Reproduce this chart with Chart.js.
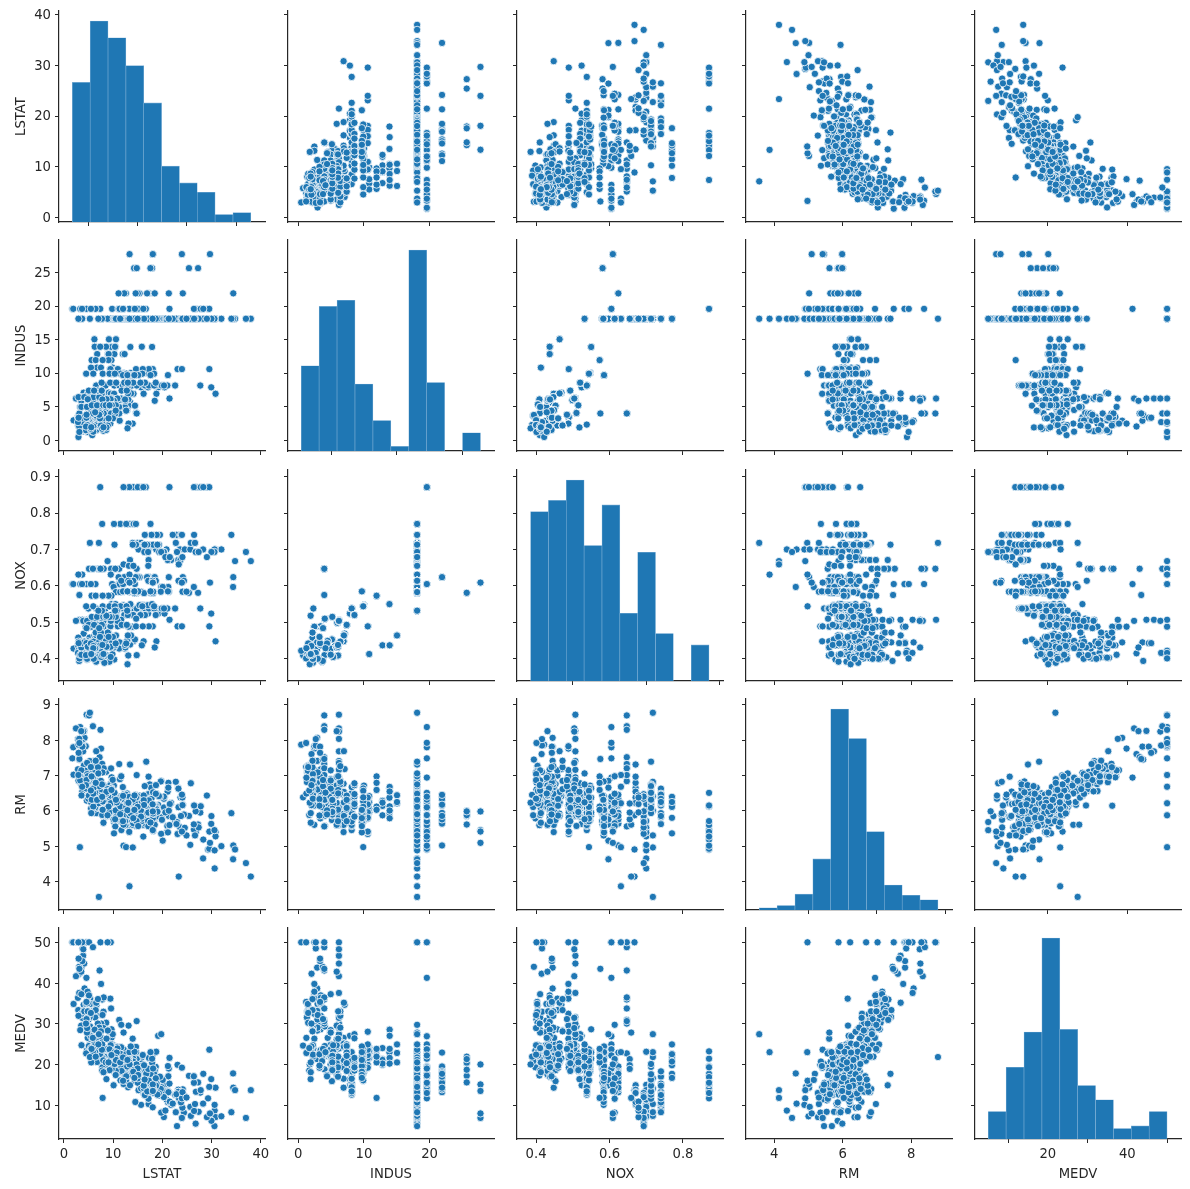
<!DOCTYPE html>
<html>
<head>
<meta charset="utf-8">
<title>Boston housing pair plot</title>
<script src="https://cdn.jsdelivr.net/npm/chart.js@4"></script>
<style>
    html, body { margin: 0; padding: 0; background: #fff; }
    #grid { position: relative; width: 1190px; height: 1189px; overflow: hidden; }
    #grid canvas { position: absolute; }
</style>
</head>
<body>
<div id="grid"></div>
<script>
// Values per house, same order in all five arrays
const indus = [
    2.31,
    7.07,7.07,
    2.18,2.18,2.18,
    7.87,7.87,7.87,7.87,7.87,7.87,7.87,
    8.14,8.14,8.14,8.14,8.14,8.14,8.14,8.14,8.14,8.14,8.14,8.14,8.14,8.14,8.14,8.14,8.14,8.14,8.14,8.14,8.14,8.14,
    5.96,5.96,5.96,5.96,
    2.95,2.95,
    6.91,6.91,6.91,6.91,6.91,6.91,6.91,6.91,6.91,
    5.64,5.64,5.64,5.64,
    4,
    1.22,
    0.74,
    1.32,
    5.13,5.13,5.13,5.13,5.13,5.13,
    1.38,
    3.37,3.37,
    6.07,6.07,6.07,
    10.81,10.81,10.81,10.81,
    12.83,12.83,12.83,12.83,12.83,12.83,
    4.86,4.86,4.86,4.86,
    4.49,4.49,4.49,4.49,
    3.41,3.41,3.41,3.41,
    15.04,15.04,15.04,
    2.89,2.89,2.89,2.89,2.89,
    8.56,8.56,8.56,8.56,8.56,8.56,8.56,8.56,8.56,8.56,8.56,
    10.01,10.01,10.01,10.01,10.01,10.01,10.01,10.01,10.01,
    25.65,25.65,25.65,25.65,25.65,25.65,25.65,
    21.89,21.89,21.89,21.89,21.89,21.89,21.89,21.89,21.89,21.89,21.89,21.89,21.89,21.89,21.89,
    19.58,19.58,19.58,19.58,19.58,19.58,19.58,19.58,19.58,19.58,19.58,19.58,19.58,19.58,19.58,19.58,
    19.58,19.58,19.58,19.58,19.58,19.58,19.58,19.58,19.58,19.58,19.58,19.58,19.58,19.58,
    4.05,4.05,4.05,4.05,4.05,4.05,
    2.46,2.46,2.46,2.46,2.46,2.46,2.46,2.46,2.46,
    3.44,3.44,3.44,3.44,3.44,3.44,
    2.93,2.93,
    0.46,
    1.52,1.52,1.52,
    1.47,1.47,
    2.03,2.03,
    2.68,2.68,
    10.59,10.59,10.59,10.59,10.59,10.59,10.59,10.59,10.59,10.59,10.59,
    13.89,13.89,13.89,13.89,
    6.2,6.2,6.2,6.2,6.2,6.2,6.2,6.2,6.2,6.2,6.2,6.2,
    6.2,6.2,6.2,6.2,6.2,6.2,
    4.93,4.93,4.93,4.93,4.93,4.93,
    5.86,5.86,5.86,5.86,5.86,5.86,5.86,5.86,5.86,5.86,
    3.64,3.64,
    3.75,
    3.97,3.97,3.97,3.97,3.97,3.97,3.97,3.97,3.97,3.97,3.97,
    3.97,
    6.96,6.96,6.96,6.96,6.96,
    6.41,6.41,6.41,6.41,6.41,
    3.33,3.33,3.33,3.33,
    1.21,
    2.97,
    2.25,
    1.76,
    5.32,5.32,5.32,
    4.95,4.95,4.95,
    13.92,13.92,13.92,13.92,13.92,
    2.24,2.24,2.24,
    6.09,6.09,6.09,
    2.18,2.18,2.18,2.18,
    9.9,9.9,9.9,9.9,9.9,9.9,9.9,9.9,9.9,9.9,9.9,9.9,
    7.38,7.38,7.38,7.38,7.38,7.38,7.38,7.38,
    3.24,3.24,3.24,
    6.06,6.06,
    5.19,5.19,5.19,5.19,5.19,5.19,5.19,5.19,
    1.52,
    1.89,
    3.78,3.78,
    4.39,4.39,
    4.15,
    2.01,
    1.25,1.25,
    1.69,1.69,
    2.02,
    1.91,1.91,
    18.1,18.1,18.1,18.1,18.1,18.1,18.1,18.1,18.1,18.1,18.1,18.1,18.1,18.1,18.1,18.1,18.1,18.1,18.1,18.1,18.1,18.1,
    18.1,18.1,18.1,18.1,18.1,18.1,18.1,18.1,18.1,18.1,18.1,18.1,18.1,18.1,18.1,18.1,18.1,18.1,18.1,18.1,18.1,18.1,
    18.1,18.1,18.1,18.1,18.1,18.1,18.1,18.1,18.1,18.1,18.1,18.1,18.1,18.1,18.1,18.1,18.1,18.1,18.1,18.1,18.1,18.1,
    18.1,18.1,18.1,18.1,18.1,18.1,18.1,18.1,18.1,18.1,18.1,18.1,18.1,18.1,18.1,18.1,18.1,18.1,18.1,18.1,18.1,18.1,
    18.1,18.1,18.1,18.1,18.1,18.1,18.1,18.1,18.1,18.1,18.1,18.1,18.1,18.1,18.1,18.1,18.1,18.1,18.1,18.1,18.1,18.1,
    18.1,18.1,18.1,18.1,18.1,18.1,18.1,18.1,18.1,18.1,18.1,18.1,18.1,18.1,18.1,18.1,18.1,18.1,18.1,18.1,18.1,18.1,
    27.74,27.74,27.74,27.74,27.74,
    9.69,9.69,9.69,9.69,9.69,9.69,9.69,9.69,
    11.93,11.93,11.93,11.93,11.93
];

const nox = [
    .538,
    .469,.469,
    .458,.458,.458,
    .524,.524,.524,.524,.524,.524,.524,
    .538,.538,.538,.538,.538,.538,.538,.538,.538,.538,.538,.538,.538,.538,.538,.538,.538,.538,.538,.538,.538,.538,
    .499,.499,.499,.499,
    .428,.428,
    .448,.448,.448,.448,.448,.448,.448,.448,.448,
    .439,.439,.439,.439,
    .41,
    .403,
    .41,
    .411,
    .453,.453,.453,.453,.453,.453,
    .4161,
    .398,.398,
    .409,.409,.409,
    .413,.413,.413,.413,
    .437,.437,.437,.437,.437,.437,
    .426,.426,.426,.426,
    .449,.449,.449,.449,
    .489,.489,.489,.489,
    .464,.464,.464,
    .445,.445,.445,.445,.445,
    .52,.52,.52,.52,.52,.52,.52,.52,.52,.52,.52,
    .547,.547,.547,.547,.547,.547,.547,.547,.547,
    .581,.581,.581,.581,.581,.581,.581,
    .624,.624,.624,.624,.624,.624,.624,.624,.624,.624,.624,.624,.624,.624,.624,
    .871,.871,.871,.871,.871,.871,.871,.871,.871,.871,.871,.871,.871,.871,.871,.871,
    .605,.605,.605,.605,.605,.605,.605,.605,.605,.605,.605,.605,.605,.605,
    .51,.51,.51,.51,.51,.51,
    .488,.488,.488,.488,.488,.488,.488,.488,.488,
    .437,.437,.437,.437,.437,.437,
    .401,.401,
    .422,
    .404,.404,.404,
    .403,.403,
    .415,.415,
    .4161,.4161,
    .489,.489,.489,.489,.489,.489,.489,.489,.489,.489,.489,
    .55,.55,.55,.55,
    .507,.507,.507,.507,.507,.507,.507,.507,.507,.507,.507,.507,
    .504,.504,.504,.504,.504,.504,
    .428,.428,.428,.428,.428,.428,
    .431,.431,.431,.431,.431,.431,.431,.431,.431,.431,
    .392,.392,
    .394,
    .647,.647,.647,.647,.647,.647,.647,.647,.647,.647,.647,
    .575,
    .464,.464,.464,.464,.464,
    .447,.447,.447,.447,.447,
    .4429,.4429,.4429,.4429,
    .401,
    .4,
    .389,
    .385,
    .405,.405,.405,
    .411,.411,.411,
    .437,.437,.437,.437,.437,
    .4,.4,.4,
    .433,.433,.433,
    .472,.472,.472,.472,
    .544,.544,.544,.544,.544,.544,.544,.544,.544,.544,.544,.544,
    .493,.493,.493,.493,.493,.493,.493,.493,
    .46,.46,.46,
    .4379,.4379,
    .515,.515,.515,.515,.515,.515,.515,.515,
    .442,
    .518,
    .484,.484,
    .442,.442,
    .429,
    .435,
    .429,.429,
    .411,.411,
    .41,
    .413,.413,
    .77,.77,.77,.77,.77,.77,.77,.77,
    .718,.718,.718,
    .631,.631,.631,.631,.631,
    .668,.668,.668,
    .671,.671,.671,.671,.671,.671,.671,
    .7,.7,.7,.7,.7,.7,.7,.7,.7,.7,.7,.7,
    .693,.693,.693,.693,.693,.693,.693,.693,.693,.693,.693,.693,
    .659,.659,
    .597,.597,.597,.597,.597,.597,
    .693,.679,.718,.718,.679,.718,.718,.718,.614,.614,.614,.614,.584,.584,.679,.679,.584,.584,.584,.713,.713,
    .74,.74,.74,.74,.74,.74,.74,.74,.74,.74,.74,.74,.74,
    .713,.713,.713,.713,.713,.713,.713,.713,.713,.713,.713,.713,.713,.713,.713,.713,
    .655,.655,.655,.584,.58,.58,.58,.532,.58,.614,.584,.584,.614,.584,.614,.614,
    .532,.532,.532,.532,
    .583,.583,.583,.583,
    .609,.609,.609,.609,.609,
    .585,.585,.585,.585,.585,.585,.585,.585,
    .573,.573,.573,.573,.573
];

const rm = [
    6.575,
    6.421,7.185,
    6.998,7.147,6.43,
    6.012,6.172,5.631,6.004,6.377,6.009,5.889,
    5.949,6.096,5.834,5.935,5.99,5.456,5.727,5.57,5.965,6.142,5.813,5.924,5.599,5.813,6.047,6.495,6.674,5.713,6.072,5.95,5.701,6.096,
    5.933,5.841,5.85,5.966,
    6.595,7.024,
    6.77,6.169,6.211,6.069,5.682,5.786,6.03,5.399,5.602,
    5.963,6.115,6.511,5.998,
    5.888,
    7.249,
    6.383,
    6.816,
    6.145,5.927,5.741,5.966,6.456,6.762,
    7.104,
    6.29,5.787,
    5.878,5.594,5.885,
    6.417,5.961,6.065,6.245,
    6.273,6.286,6.279,6.14,6.232,5.874,
    6.727,6.619,6.302,6.167,
    6.389,6.63,6.015,6.121,
    7.007,7.079,6.417,6.405,
    6.442,6.211,6.249,
    6.625,6.163,8.069,7.82,7.416,
    6.727,6.781,6.405,6.137,6.167,5.851,5.836,6.127,6.474,6.229,6.195,
    6.715,5.913,6.092,6.254,5.928,6.176,6.021,5.872,5.731,
    5.87,6.004,5.961,5.856,5.879,5.986,5.613,
    5.693,6.431,5.637,6.458,6.326,6.372,5.822,5.757,6.335,5.942,6.454,5.857,6.151,6.174,5.019,
    5.403,5.468,4.903,6.13,5.628,4.926,5.186,5.597,6.122,5.404,5.012,5.709,6.129,6.152,5.272,6.51,
    6.943,6.066,6.25,7.489,7.802,8.375,5.854,6.101,7.929,5.877,6.319,6.402,5.875,5.88,
    5.572,6.416,5.859,6.546,6.02,6.315,
    6.86,6.98,7.765,6.144,7.155,6.563,5.604,6.153,7.831,
    6.782,6.556,7.185,6.951,6.739,7.178,
    6.8,6.604,
    7.875,
    7.287,7.107,7.274,
    6.975,7.135,
    6.162,7.61,
    7.853,8.034,
    5.891,6.326,5.783,6.064,5.344,5.96,5.404,5.807,6.375,5.412,6.182,
    5.888,6.642,5.951,6.373,
    6.951,6.164,6.879,6.618,8.266,8.725,8.04,7.163,7.686,6.552,5.981,7.412,
    8.337,8.247,6.726,6.086,6.631,7.358,
    6.481,6.606,6.897,6.095,6.358,6.393,
    5.593,5.605,6.108,6.226,6.433,6.718,6.487,6.438,6.957,8.259,
    6.108,5.876,
    7.454,
    8.704,7.333,6.842,7.203,7.52,8.398,7.327,7.206,5.56,7.014,8.297,
    7.47,
    5.92,5.856,6.24,6.538,7.691,
    6.758,6.854,7.267,6.826,6.482,
    6.812,7.82,6.968,7.645,
    7.923,
    7.088,
    6.453,
    6.23,
    6.209,6.315,6.565,
    6.861,7.148,6.63,
    6.127,6.009,6.678,6.549,5.79,
    6.345,7.041,6.871,
    6.59,6.495,6.982,
    7.236,6.616,7.42,6.849,
    6.635,5.972,4.973,6.122,6.023,6.266,6.567,5.705,5.914,5.782,6.382,6.113,
    6.426,6.376,6.041,5.708,6.415,6.431,6.312,6.083,
    5.868,6.333,6.144,
    5.706,6.031,
    6.316,6.31,6.037,5.869,5.895,6.059,5.985,5.968,
    7.241,
    6.54,
    6.696,6.874,
    6.014,5.898,
    6.516,
    6.635,
    6.939,6.49,
    6.579,5.884,
    6.728,
    5.663,5.936,
    6.212,6.395,6.127,6.112,6.398,6.251,5.362,5.803,
    8.78,3.561,4.963,
    3.863,4.97,6.683,7.016,6.216,
    5.875,4.906,4.138,
    7.313,6.649,6.794,6.38,6.223,6.968,6.545,
    5.536,5.52,4.368,5.277,4.652,5,4.88,5.39,5.713,6.051,5.036,6.193,
    5.887,6.471,6.405,5.747,5.453,5.852,5.987,6.343,6.404,5.349,5.531,5.683,
    4.138,5.608,
    5.617,6.852,5.757,6.657,4.628,5.155,
    4.519,6.434,6.782,5.304,5.957,6.824,6.411,6.006,5.648,6.103,5.565,5.896,5.837,6.202,6.193,6.38,6.348,6.833,6.425,6.436,6.208,
    6.629,6.461,6.152,5.935,5.627,5.818,6.406,6.219,6.485,5.854,6.459,6.341,6.251,
    6.185,6.417,6.749,6.655,6.297,7.393,6.728,6.525,5.976,5.936,6.301,6.081,6.701,6.376,6.317,6.513,
    6.209,5.759,5.952,6.003,5.926,5.713,6.167,6.229,6.437,6.98,5.427,6.162,6.484,5.304,6.185,6.229,
    6.242,6.75,7.061,5.762,
    5.871,6.312,6.114,5.905,
    5.454,5.414,5.093,5.983,5.983,
    5.707,5.926,5.67,5.39,5.794,6.019,5.569,6.027,
    6.593,6.12,6.976,6.794,6.03
];

const lstat = [
    4.98,
    9.14,4.03,
    2.94,5.33,5.21,
    12.43,19.15,29.93,17.1,20.45,13.27,15.71,
    8.26,10.26,8.47,6.58,14.67,11.69,11.28,21.02,13.83,18.72,19.88,16.3,16.51,14.81,17.28,12.8,11.98,22.6,13.04,27.71,18.35,20.34,
    9.68,11.41,8.77,10.13,
    4.32,1.98,
    4.84,5.81,7.44,9.55,10.21,14.15,18.8,30.81,16.2,
    13.45,9.43,5.28,8.43,
    14.8,
    4.81,
    5.77,
    3.95,
    6.86,9.22,13.15,14.44,6.73,9.5,
    8.05,
    4.67,10.24,
    8.1,13.09,8.79,
    6.72,9.88,5.52,7.54,
    6.78,8.94,11.97,10.27,12.34,9.1,
    5.29,7.22,6.72,7.51,
    9.62,6.53,12.86,8.44,
    5.5,5.7,8.81,8.2,
    9.16,6.21,10.59,
    6.65,11.34,4.21,3.57,6.19,
    9.42,7.67,10.63,13.44,12.33,16.47,18.66,14.09,12.27,15.55,13,
    10.16,16.21,17.09,10.45,15.76,12.04,10.3,15.37,13.61,
    14.37,14.27,17.93,25.41,17.58,14.81,27.26,
    17.19,15.39,18.34,12.6,12.26,11.12,15.03,17.31,16.96,16.9,14.59,21.32,18.46,24.16,34.41,
    26.82,26.42,29.29,27.8,16.65,29.53,28.32,21.45,14.1,13.28,12.12,15.79,15.12,15.02,16.14,7.39,
    4.59,6.43,5.5,1.73,1.92,3.32,11.64,9.81,3.7,12.14,11.1,11.32,14.43,12.03,
    14.69,9.04,9.64,5.33,10.11,6.29,
    6.92,5.04,7.56,9.45,4.82,5.68,13.98,13.15,4.45,
    6.68,4.56,5.39,5.1,4.69,2.87,
    5.03,4.38,
    2.97,
    4.08,8.61,6.62,
    4.56,4.45,
    7.43,3.11,
    3.81,2.88,
    10.87,10.97,18.06,14.66,23.09,17.27,23.98,16.03,9.38,29.55,9.47,
    13.51,9.69,17.92,10.5,
    9.71,21.46,9.93,7.6,4.14,4.63,3.13,6.36,3.92,3.76,11.65,5.25,
    2.47,3.95,8.05,10.88,9.54,4.73,
    6.36,7.37,11.38,12.4,11.22,5.19,
    12.5,18.46,9.16,10.15,9.52,6.56,5.9,3.59,3.53,3.54,
    6.57,9.25,
    3.11,
    5.12,7.79,6.9,9.59,7.26,5.91,11.25,8.1,10.45,14.79,7.44,
    3.16,
    13.65,13,6.59,7.73,6.58,
    3.53,2.98,6.05,4.16,7.19,
    4.85,3.76,4.59,3.01,
    3.16,
    7.85,
    8.23,
    12.93,
    7.14,7.6,9.51,
    3.33,3.56,4.7,
    8.58,10.4,6.27,7.39,15.84,
    4.97,4.74,6.07,
    9.5,8.67,4.86,
    6.93,8.93,6.47,7.53,
    4.54,9.97,12.64,5.98,11.72,7.9,9.28,11.5,18.33,15.94,10.36,12.73,
    7.2,6.87,7.7,11.74,6.12,5.08,6.15,12.79,
    9.97,7.34,9.09,
    12.43,7.83,
    5.68,6.75,8.01,9.8,10.56,8.51,9.74,9.29,
    5.49,
    8.65,
    7.18,4.61,
    10.53,12.67,
    6.36,
    5.99,
    5.89,5.98,
    5.49,7.79,
    4.5,
    8.05,5.57,
    17.6,13.27,11.48,12.67,7.79,14.19,10.19,14.64,
    5.29,7.12,14,
    13.33,3.26,3.73,2.96,9.53,
    8.88,34.77,37.97,
    13.44,23.24,21.24,23.69,21.78,17.21,21.08,
    23.6,24.56,30.63,30.81,28.28,31.99,30.62,20.85,17.11,18.76,25.68,15.17,
    16.35,17.12,19.37,19.92,30.59,29.97,26.77,20.32,20.31,19.77,27.38,22.98,
    23.34,12.13,
    26.4,19.78,10.11,21.22,34.37,20.08,
    36.98,29.05,25.79,26.64,20.62,22.74,15.02,15.7,14.1,23.29,17.16,24.39,15.69,14.52,21.52,24.08,17.64,19.69,12.03,16.22,17.19,
    23.27,18.05,26.45,34.02,22.88,22.11,19.52,16.59,18.85,23.79,23.98,17.79,16.44,
    18.13,19.31,17.44,17.73,17.27,16.74,18.71,18.13,19.01,16.94,16.23,14.7,16.42,14.65,13.99,10.29,
    13.22,14.13,17.15,21.32,18.13,14.76,16.29,12.87,14.36,11.66,18.14,24.1,18.68,24.91,18.03,13.11,
    10.74,7.74,7.01,10.42,
    13.34,10.58,14.98,11.45,
    18.06,23.97,29.68,18.07,13.35,
    12.01,13.59,17.6,21.14,14.1,12.92,15.1,14.33,
    9.67,9.08,5.64,6.48,7.88
];

const medv = [
    24,
    21.6,34.7,
    33.4,36.2,28.7,
    22.9,27.1,16.5,18.9,15,18.9,21.7,
    20.4,18.2,19.9,23.1,17.5,20.2,18.2,13.6,19.6,15.2,14.5,15.6,13.9,16.6,14.8,18.4,21,12.7,14.5,13.2,13.1,13.5,
    18.9,20,21,24.7,
    30.8,34.9,
    26.6,25.3,24.7,21.2,19.3,20,16.6,14.4,19.4,
    19.7,20.5,25,23.4,
    18.9,
    35.4,
    24.7,
    31.6,
    23.3,19.6,18.7,16,22.2,25,
    33,
    23.5,19.4,
    22,17.4,20.9,
    24.2,21.7,22.8,23.4,
    24.1,21.4,20,20.8,21.2,20.3,
    28,23.9,24.8,22.9,
    23.9,26.6,22.5,22.2,
    23.6,28.7,22.6,22,
    22.9,25,20.6,
    28.4,21.4,38.7,43.8,33.2,
    27.5,26.5,18.6,19.3,20.1,19.5,19.5,20.4,19.8,19.4,21.7,
    22.8,18.8,18.7,18.5,18.3,21.2,19.2,20.4,19.3,
    22,20.3,20.5,17.3,18.8,21.4,15.7,
    16.2,18,14.3,19.2,19.6,23,18.4,15.6,18.1,17.4,17.1,13.3,17.8,14,14.4,
    13.4,15.6,11.8,13.8,15.6,14.6,17.8,15.4,21.5,19.6,15.3,19.4,17,15.6,13.1,23.3,
    41.3,24.3,27,50,50,50,22.7,25,50,23.8,23.8,22.3,17.4,19.1,
    23.1,23.6,22.6,29.4,23.2,24.6,
    29.9,37.2,39.8,36.2,37.9,32.5,26.4,29.6,50,
    32,29.8,34.9,37,30.5,36.4,
    31.1,29.1,
    50,
    33.3,30.3,34.6,
    34.9,32.9,
    24.1,42.3,
    48.5,50,
    22.6,24.4,22.5,24.4,20,21.7,19.3,22.4,28.1,23.7,25,
    23.3,28.7,21.5,23,
    26.7,21.7,27.5,30.1,44.8,50,37.6,31.6,46.7,31.5,24.3,31.7,
    41.7,48.3,29,24,25.1,31.5,
    23.7,23.3,22,20.1,22.2,23.7,
    17.6,18.5,24.3,20.5,24.5,26.2,24.4,24.8,29.6,42.8,
    21.9,20.9,
    44,
    50,36,30.1,33.8,43.1,48.8,31,36.5,22.8,30.7,50,
    43.5,
    20.7,21.1,25.2,24.4,35.2,
    32.4,32,33.2,33.1,29.1,
    35.1,45.4,35.4,46,
    50,
    32.2,
    22,
    20.1,
    23.2,22.3,24.8,
    28.5,37.3,27.9,
    23.9,21.7,28.6,27.1,20.3,
    22.5,29,24.8,
    22,26.4,33.1,
    36.1,28.4,33.4,28.2,
    22.8,20.3,16.1,22.1,19.4,21.6,23.8,16.2,17.8,19.8,23.1,21,
    23.8,23.1,20.4,18.5,25,24.6,23,22.2,
    19.3,22.6,19.8,
    17.1,19.4,
    22.2,20.7,21.1,19.5,18.5,20.6,19,18.7,
    32.7,
    16.5,
    23.9,31.2,
    17.5,17.2,
    23.1,
    24.5,
    26.6,22.9,
    24.1,18.6,
    30.1,
    18.2,20.6,
    17.8,21.7,22.7,22.6,25,19.9,20.8,16.8,
    21.9,27.5,23.1,
    23.1,50,50,50,50,
    50,13.8,13.8,
    15,13.9,13.3,13.1,10.2,10.4,10.9,
    11.3,12.3,8.8,7.2,10.5,7.4,10.2,11.5,15.1,23.2,9.7,13.8,
    12.7,13.1,12.5,8.5,5,6.3,5.6,7.2,12.1,8.3,8.5,5,
    11.9,27.9,
    17.2,27.5,15,17.2,17.9,16.3,
    7,7.2,7.5,10.4,8.8,8.4,16.7,14.2,20.8,13.4,11.7,8.3,10.2,10.9,11,9.5,14.5,14.1,16.1,14.3,11.7,
    13.4,9.6,8.7,8.4,12.8,10.5,17.1,18.4,15.4,10.8,11.8,14.9,12.6,
    14.1,13,13.4,15.2,16.1,17.8,14.9,14.1,12.7,13.5,14.9,20,16.4,17.7,19.5,20.2,
    21.4,19.9,19,19.1,19.1,20.1,19.9,19.6,23.2,29.8,13.8,13.3,16.7,12,14.6,21.4,
    23,23.7,25,21.8,
    20.6,21.2,19.1,20.6,
    15.2,7,8.1,13.6,20.1,
    21.8,24.5,23.1,19.7,18.3,21.2,17.5,16.8,
    22.4,20.6,23.9,22,11.9
];

// Histogram bins and counts on the diagonal
const lstatEdges = [1.73,5.354,8.978,12.602,16.226,19.85,23.474,27.098,30.722,34.346,37.97];
const lstatCounts = [75,108,99,84,64,30,21,16,4,5];
const indusEdges = [.46,3.188,5.916,8.644,11.372,14.1,16.828,19.556,22.284,25.012,27.74];
const indusCounts = [56,95,99,44,20,3,132,45,0,12];
const noxEdges = [.385,.4336,.4822,.5308,.5794,.628,.6766,.7252,.7738,.8224,.871];
const noxCounts = [75,80,89,60,78,30,57,21,0,16];
const rmEdges = [3.561,4.0829,4.6048,5.1267,5.6486,6.1705,6.6924,7.2143,7.7362,8.2581,8.78];
const rmCounts = [2,4,14,45,177,151,69,22,13,9];
const medvEdges = [5,9.5,14,18.5,23,27.5,32,36.5,41,45.5,50];
const medvCounts = [21,55,82,154,84,41,30,8,10,21];

// Tick labels
const lstatXTicks = [0,10,20,30,40];
const lstatYTicks = [0,10,20,30,40];
const indusXTicks = [0,10,20];
const indusYTicks = [0,5,10,15,20,25];
const noxXTicks = [0.4,0.6,0.8];
const noxYTicks = [0.4,0.5,0.6,0.7,0.8,0.9];
const rmXTicks = [4,6,8];
const rmYTicks = [4,5,6,7,8,9];
const medvXTicks = [20,40];
const medvYTicks = [10,20,30,40,50];

const variables = [
    { name: 'LSTAT', values: lstat, edges: lstatEdges, counts: lstatCounts, xTicks: lstatXTicks, yTicks: lstatYTicks, xRange: [-0.98, 40.85], yRange: [-0.89, 40.7] },
    { name: 'INDUS', values: indus, edges: indusEdges, counts: indusCounts, xTicks: indusXTicks, yTicks: indusYTicks, xRange: [-1.55, 29.8], yRange: [-1.63, 29.85] },
    { name: 'NOX', values: nox, edges: noxEdges, counts: noxCounts, xTicks: noxXTicks, yTicks: noxYTicks, xRange: [0.348, 0.909], yRange: [0.339, 0.918] },
    { name: 'RM', values: rm, edges: rmEdges, counts: rmCounts, xTicks: rmXTicks, yTicks: rmYTicks, xRange: [3.175, 9.19], yRange: [3.19, 9.17] },
    { name: 'MEDV', values: medv, edges: medvEdges, counts: medvCounts, xTicks: medvXTicks, yTicks: medvYTicks, xRange: [1.67, 53.5], yRange: [1.84, 53.5] }
];

// Layout
const panelLeft = 58.5, panelTop = 11, panelW = 205.5, panelH = 210.6;
const stepX = 229.1, stepY = 229.25;
const inkColor = '#262626';
const blue = '#1f77b4';
const fontSpec = { family: '"DejaVu Sans"', size: 13.2 };

function axisOptions(ticks, range, showLabels, title, size, labelShift) {
    return {
        type: 'linear',
        min: range[0],
        max: range[1],
        offset: false,
        grid: { display: true, drawOnChartArea: false, drawTicks: true, tickLength: 4, color: inkColor, tickColor: inkColor, lineWidth: 1 },
        border: { display: true, color: inkColor, width: 1.2 },
        ticks: { display: showLabels, color: inkColor, font: fontSpec, padding: 4, labelOffset: labelShift, maxRotation: 0, autoSkip: false, callback: v => String(v) },
        // left titles take their offset from padding.top, bottom titles from padding.bottom
        title: { display: !!title, text: title || '', color: inkColor, font: fontSpec, padding: { top: 13, bottom: 9 } },
        afterBuildTicks: scale => { scale.ticks = ticks.map(v => ({ value: v })); },
        afterFit: scale => {
            if (scale.isHorizontal()) scale.height = size;
            else scale.width = size;
            // no inset for the end labels, ticks must line up across the row
            scale.paddingLeft = 0;
            scale.paddingRight = 0;
            scale.paddingTop = 0;
            scale.paddingBottom = 0;
        }
    };
}

const grid = document.getElementById('grid');

variables.forEach((rowVar, r) => {
    variables.forEach((colVar, c) => {
        const marginL = c === 0 ? 58 : 8;
        const marginB = r === variables.length - 1 ? 52 : 8;
        const marginT = 6, marginR = 8;
        const left = panelLeft + c * stepX - marginL;
        const top = panelTop + r * stepY - marginT;

        const canvas = document.createElement('canvas');
        const w = Math.round(panelW + marginL + marginR);
        const h = Math.round(panelH + marginT + marginB);
        canvas.width = w;
        canvas.height = h;
        canvas.style.left = left + 'px';
        canvas.style.top = top + 'px';
        canvas.style.width = w + 'px';
        canvas.style.height = h + 'px';
        grid.appendChild(canvas);

        const isLastRow = r === variables.length - 1;
        const scales = {
            x: axisOptions(colVar.xTicks, colVar.xRange, isLastRow, isLastRow ? colVar.name : null, marginB, 0),
            y: axisOptions(rowVar.yTicks, rowVar.yRange, c === 0, c === 0 ? rowVar.name : null, marginL, 1)
        };

        let config;
        if (r === c) {
            // histogram has its own count scale, the visible y axis belongs to the row
            const bars = colVar.counts.map((n, i) => ({ x: (colVar.edges[i] + colVar.edges[i + 1]) / 2, y: n }));
            scales.yCount = { type: 'linear', display: false, min: 0, max: Math.max(...colVar.counts) * 1.05 };
            config = {
                type: 'bar',
                data: { datasets: [{
                    data: bars,
                    yAxisID: 'yCount',
                    backgroundColor: blue,
                    borderColor: '#7fb0d6',
                    borderWidth: 0.6,
                    barPercentage: 1,
                    categoryPercentage: 1
                }] }
            };
        } else {
            const points = colVar.values.map((v, i) => ({ x: v, y: rowVar.values[i] }));
            config = {
                type: 'scatter',
                data: { datasets: [{
                    data: points,
                    pointRadius: 3.65,
                    pointBackgroundColor: blue,
                    pointBorderColor: '#ffffff',
                    pointBorderWidth: 0.8
                }] }
            };
        }

        config.options = {
            responsive: false,
            animation: false,
            events: [],
            layout: { padding: { left: 0, right: marginR, top: marginT, bottom: 0 } },
            plugins: { legend: { display: false }, title: { display: false }, tooltip: { enabled: false } },
            scales: scales
        };
        new Chart(canvas.getContext('2d'), config);
    });
});
</script>
</body>
</html>
